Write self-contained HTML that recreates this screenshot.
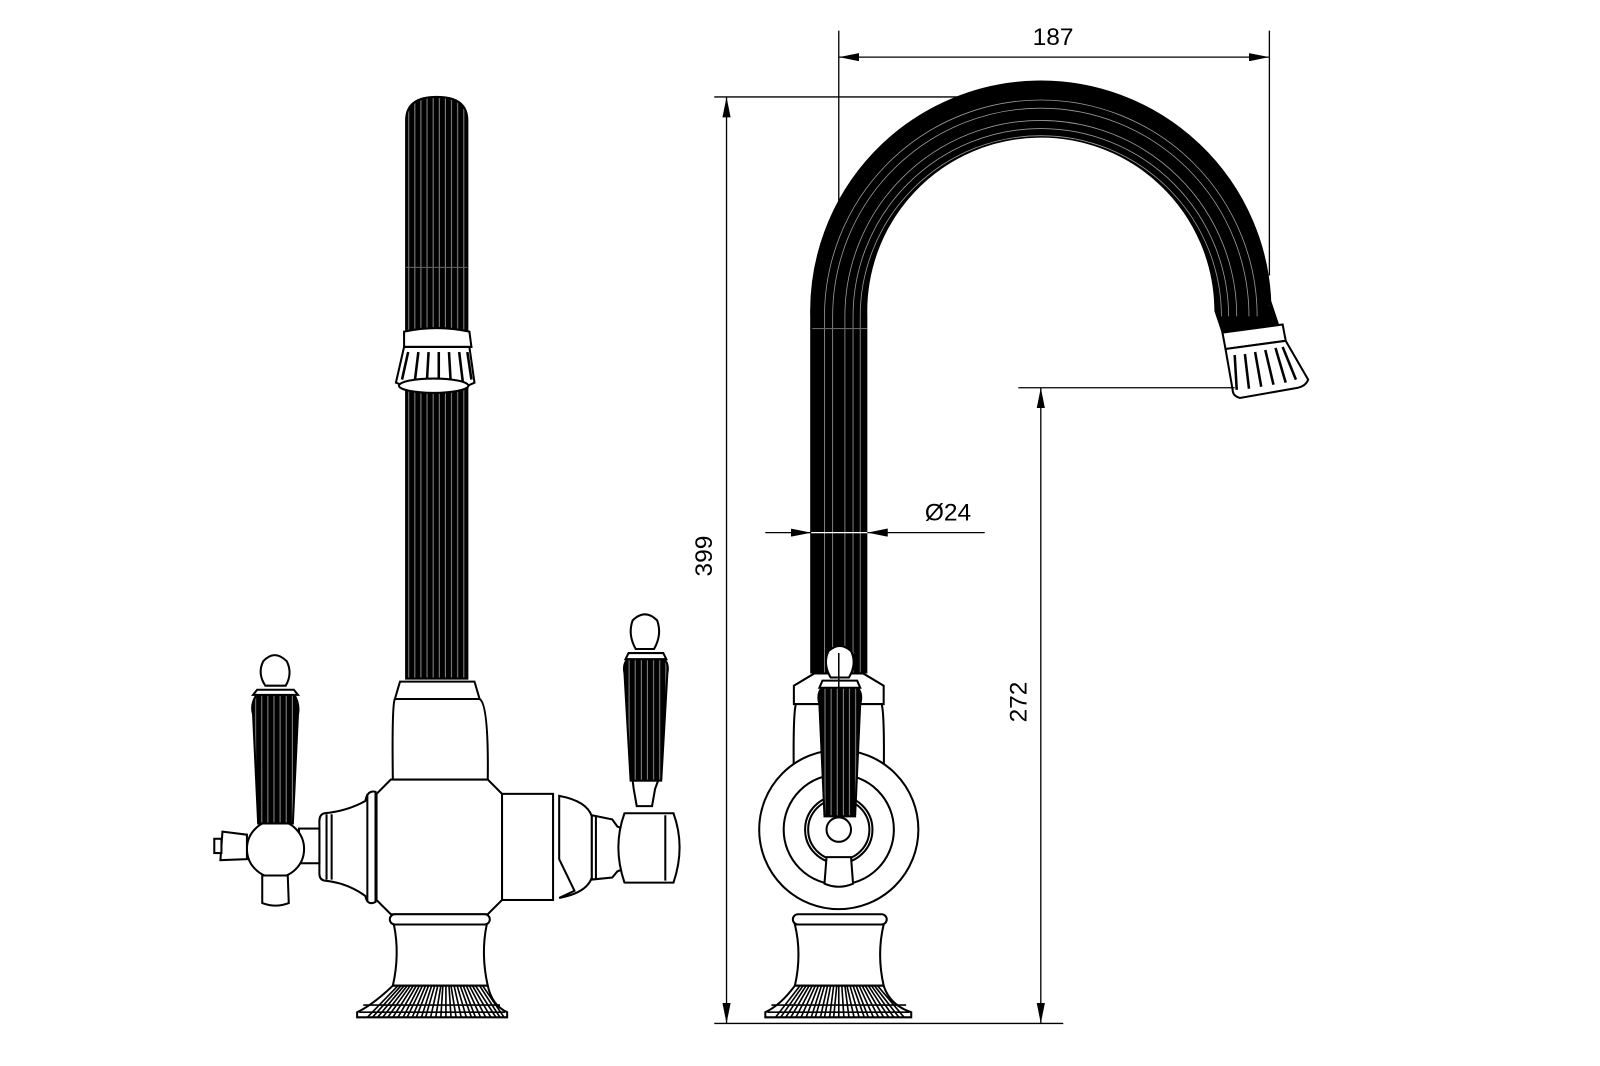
<!DOCTYPE html>
<html><head><meta charset="utf-8"><style>
html,body{margin:0;padding:0;background:#fff;}
svg{display:block;}
text{font-family:"Liberation Sans",sans-serif;font-size:24px;fill:#000;}
</style></head><body>
<svg width="1600" height="1066" viewBox="0 0 1568 1044.7" preserveAspectRatio="none" xmlns="http://www.w3.org/2000/svg">
<defs>
<marker id="ar" markerWidth="20" markerHeight="8" refX="20" refY="4" orient="auto-start-reverse" markerUnits="userSpaceOnUse">
<path d="M0,0 L20,4 L0,8 Z" fill="#000"/></marker>
<pattern id="flute" width="6" height="10" patternUnits="userSpaceOnUse">
<rect width="6" height="10" fill="#000"/><rect x="4" width="1" height="10" fill="#888"/></pattern>
</defs>
<g fill="none" stroke="#000" stroke-width="2">

<!-- ===== LEFT FAUCET ===== -->
<path d="M398,665 L398,118 Q398,95 428,95 Q458,95 458,118 L458,665 Z" fill="url(#flute)" stroke="#000"/>
<line x1="398" y1="262" x2="458" y2="262" stroke="#666" stroke-width="1"/>
<path d="M396,325 Q428,318 460,325 L462,340 L396,340 Z" fill="#fff"/>
<path d="M396,340 L460,340 L465,375 Q430,392 388,375 Z" fill="#fff"/>
<g stroke-width="2.5">
<line x1="400" y1="345" x2="394" y2="372"/><line x1="410" y1="345" x2="406" y2="378"/><line x1="420" y1="345" x2="418" y2="380"/><line x1="430" y1="345" x2="430" y2="381"/><line x1="440" y1="345" x2="442" y2="380"/><line x1="450" y1="345" x2="454" y2="378"/><line x1="458" y1="345" x2="462" y2="372"/>
</g>
<ellipse cx="425" cy="378" rx="34" ry="7" fill="#fff"/>
<path d="M392,668 L465,668 L470,685 L387,685 Z" fill="#fff"/>
<path d="M387,685 Q384,690 385,765 L478,765 Q479,690 470,685 Z" fill="#fff"/>
<path d="M383,764 L478,764 L492,778 L492,882 L478,896 L383,896 L369,882 L369,778 Z" fill="#fff"/>
<path d="M368,776 Q360,774 358,785 Q340,795 318,797 Q313,798 313,805 L313,856 Q313,862 318,863 Q340,865 358,878 Q360,888 368,884 Z" fill="#fff"/>
<line x1="320" y1="798" x2="320" y2="862"/><line x1="325" y1="798" x2="325" y2="862"/>
<line x1="360" y1="778" x2="360" y2="884"/>
<rect x="293" y="812" width="20" height="34" fill="#fff"/>
<circle cx="270" cy="832" r="28" fill="#fff"/>
<path d="M242,818 L218,815 L216,843 L242,842 Z" fill="#fff"/>
<rect x="210" y="822" width="7" height="14" fill="#fff"/>
<path d="M257,858 L282,858 L283,885 Q270,890 257,885 Z" fill="#fff"/>
<path d="M248,700 Q245,690 252,680 L288,680 Q294,690 292,700 L287,807 L253,807 Z" fill="url(#flute)"/>
<path d="M252,676 L288,676 L292,681 L248,681 Z" fill="#fff"/>
<path d="M260,672 Q252,660 258,648 Q269,636 281,648 Q287,660 280,672 Z" fill="#fff"/>
<rect x="492" y="778" width="50" height="104" fill="#fff"/>
<path d="M548,780 Q575,785 580,800 L580,860 Q575,875 548,880 L563,873 L548,842 Z" fill="#fff"/>
<path d="M580,799 L600,803 L605,810 L610,812 L610,852 L605,854 L600,860 L580,862 Z" fill="#fff"/>
<line x1="584" y1="800" x2="584" y2="862"/>
<path d="M612,797 L660,797 Q672,830 660,865 L612,865 Q600,830 612,797 Z" fill="#fff"/>
<line x1="652" y1="799" x2="652" y2="863"/>
<path d="M620,765 L645,765 L642,773 L639,790 L624,790 L621,773 Z" fill="#fff"/>
<path d="M612,660 Q610,650 616,645 L650,645 Q656,650 654,660 L648,765 L618,765 Z" fill="url(#flute)"/>
<path d="M616,640 L650,640 L653,646 L613,646 Z" fill="#fff"/>
<path d="M623,636 Q615,622 620,608 Q632,596 644,608 Q649,622 641,636 Z" fill="#fff"/>
<rect x="382" y="896" width="98" height="10" rx="5" fill="#fff"/>
<path d="M386,906 Q392,935 385,966 L478,966 Q471,935 477,906 Z" fill="#fff"/>
<path d="M385,966 L478,966 Q482,985 497,992 L497,997 L350,997 L350,992 Q365,985 385,966 Z" fill="#fff"/>
<g stroke-width="1.6">
<line x1="356" y1="985" x2="490" y2="985"/><line x1="352" y1="992" x2="495" y2="992"/>
<path d="M390,966 L360,997 M396,966 L370,997 M402,966 L380,997 M408,966 L390,997 M414,966 L399,997 M420,966 L408,997 M426,966 L417,997 M432,966 L427,997 M437,966 L437,997 M442,966 L447,997 M448,966 L457,997 M454,966 L466,997 M460,966 L476,997 M466,966 L486,997 M473,966 L494,997"/>
<path d="M393,966 L365,997 M399,966 L375,997 M405,966 L385,997 M411,966 L395,997 M417,966 L404,997 M423,966 L413,997 M429,966 L422,997 M434,966 L432,997 M440,966 L442,997 M445,966 L452,997 M451,966 L462,997 M457,966 L471,997 M463,966 L481,997 M470,966 L490,997"/>
</g>

<!-- ===== RIGHT FAUCET ===== -->
<path d="M822,660 L822,310 A198,198 0 0 1 1218,300 L1228,330" stroke="#000" stroke-width="56" fill="none"/>
<g stroke="#999" stroke-width="0.8">
<path d="M808,660 L808,310 A212,212 0 0 1 1232,310"/>
<path d="M816,660 L816,310 A204,204 0 0 1 1224,310"/>
<path d="M828,660 L828,310 A192,192 0 0 1 1212,310"/>
<path d="M836,660 L836,310 A184,184 0 0 1 1204,310"/>
<path d="M843,660 L843,310 A177,177 0 0 1 1197,310"/>
</g>
<line x1="796" y1="322" x2="850" y2="322" stroke="#666" stroke-width="1"/>
<path d="M1198,326 L1257,318 L1260,334 L1201,342 Z" fill="#fff"/>
<path d="M1201,342 L1260,334 L1282,372 Q1280,378 1272,380 L1215,390 Q1208,388 1208,382 Z" fill="#fff"/>
<g stroke-width="2.5">
<line x1="1210" y1="348" x2="1212" y2="382"/><line x1="1220" y1="347" x2="1224" y2="381"/><line x1="1230" y1="345" x2="1236" y2="379"/><line x1="1240" y1="343" x2="1248" y2="377"/><line x1="1250" y1="341" x2="1260" y2="375"/><line x1="1257" y1="340" x2="1270" y2="372"/>
</g>
<path d="M798,660 L846,660 L866,672 L866,690 L778,690 L778,672 Z" fill="#fff"/>
<path d="M780,690 Q777,700 778,765 L866,765 Q867,700 864,690 Z" fill="#fff"/>
<circle cx="822" cy="813" r="78" fill="#fff"/>
<circle cx="822" cy="813" r="54"/>
<circle cx="822" cy="813" r="33"/>
<circle cx="822" cy="813" r="30"/>
<circle cx="822" cy="813" r="12"/>
<path d="M810,840 L834,840 L836,866 Q822,872 808,866 Z" fill="#fff"/>
<path d="M803,690 Q800,680 806,673 L840,673 Q846,680 843,690 L838,800 L808,800 Z" fill="url(#flute)"/>
<path d="M806,667 L840,667 L843,674 L803,674 Z" fill="#fff"/>
<path d="M814,664 Q806,650 812,638 Q823,628 834,638 Q840,650 832,664 Z" fill="#fff"/>
<line x1="822" y1="640" x2="822" y2="800" stroke-width="1.5"/>
<rect x="777" y="896" width="92" height="10" rx="5" fill="#fff"/>
<path d="M779,906 Q786,935 779,966 L866,966 Q859,935 866,906 Z" fill="#fff"/>
<path d="M779,966 L866,966 Q872,985 893,992 L893,997 L750,997 L750,992 Q765,985 779,966 Z" fill="#fff"/>
<g stroke-width="1.6">
<line x1="756" y1="985" x2="888" y2="985"/><line x1="752" y1="992" x2="891" y2="992"/>
<path d="M784,966 L760,997 M790,966 L770,997 M796,966 L780,997 M802,966 L790,997 M808,966 L799,997 M814,966 L808,997 M820,966 L817,997 M825,966 L827,997 M830,966 L837,997 M836,966 L847,997 M842,966 L856,997 M848,966 L866,997 M854,966 L876,997 M860,966 L886,997"/>
<path d="M787,966 L765,997 M793,966 L775,997 M799,966 L785,997 M805,966 L795,997 M811,966 L804,997 M817,966 L813,997 M822,966 L822,997 M828,966 L832,997 M833,966 L842,997 M839,966 L851,997 M845,966 L861,997 M851,966 L871,997 M857,966 L881,997"/>
</g>
</g>

<!-- ===== DIMENSIONS ===== -->
<g stroke="#000" stroke-width="1.3" fill="none">
<line x1="822" y1="30" x2="822" y2="215"/>
<line x1="1244" y1="30" x2="1244" y2="270"/>
<line x1="822" y1="56" x2="1244" y2="56" marker-end="url(#ar)" marker-start="url(#ar)"/>
<line x1="700" y1="95" x2="1005" y2="95"/>
<line x1="700" y1="1003" x2="1042" y2="1003"/>
<line x1="712" y1="95" x2="712" y2="1003" marker-end="url(#ar)" marker-start="url(#ar)"/>
<line x1="998" y1="380" x2="1210" y2="380"/>
<line x1="1020" y1="380" x2="1020" y2="1003" marker-end="url(#ar)" marker-start="url(#ar)"/>
<line x1="750" y1="522" x2="795" y2="522" marker-end="url(#ar)"/>
<line x1="965" y1="522" x2="850" y2="522" marker-end="url(#ar)"/>
<line x1="795" y1="522" x2="850" y2="522" stroke="#fff"/>
</g>
<text x="1032" y="44" text-anchor="middle">187</text>
<text x="929" y="510" text-anchor="middle">Ø24</text>
<text transform="translate(698,545) rotate(-90)" text-anchor="middle">399</text>
<text transform="translate(1006,688) rotate(-90)" text-anchor="middle">272</text>
</svg>
</body></html>
